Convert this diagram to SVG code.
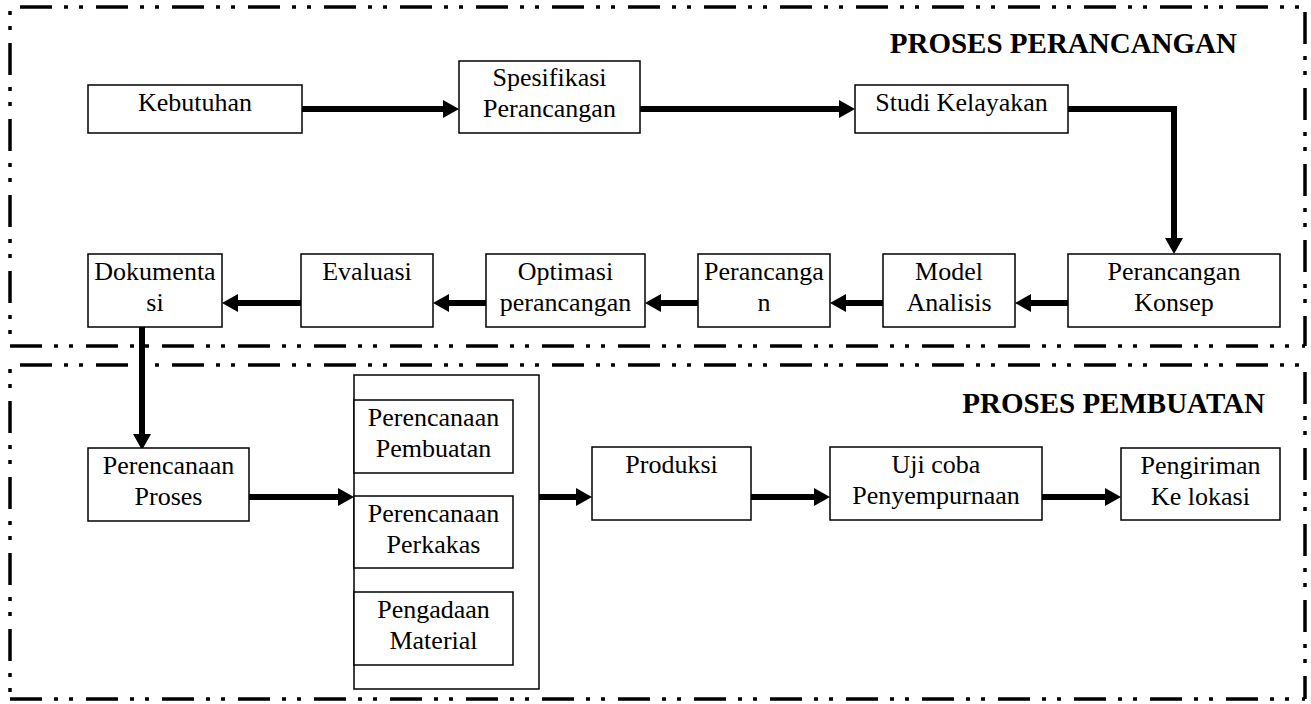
<svg xmlns="http://www.w3.org/2000/svg" width="1311" height="704" viewBox="0 0 1311 704">
<style>
.frame{fill:none;stroke:#000;stroke-width:3.5;stroke-dasharray:32 12 4 11 4 13}
.box{fill:#fff;stroke:#000;stroke-width:1.5}
.t{font-family:"Liberation Serif","Times New Roman",serif;font-size:26px;fill:#000;text-anchor:middle}
.title{font-family:"Liberation Serif","Times New Roman",serif;font-size:29px;font-weight:bold;fill:#000;text-anchor:end}
.arr{fill:none;stroke:#000;stroke-width:6;marker-end:url(#ah)}
</style>
<defs>
<marker id="ah" viewBox="0 0 16 18" refX="0" refY="9" markerWidth="16" markerHeight="18" markerUnits="userSpaceOnUse" orient="auto">
<path d="M0,0 L16,9 L0,18 Z" fill="#000"/>
</marker>
</defs>
<g id="frames">
<line class="frame" x1="10" y1="7" x2="1305" y2="7" stroke-dashoffset="66"/>
<line class="frame" x1="10" y1="7" x2="10" y2="346" stroke-dashoffset="40"/>
<line class="frame" x1="1305" y1="7" x2="1305" y2="346" stroke-dashoffset="71"/>
<line class="frame" x1="10" y1="346" x2="1305" y2="346" stroke-dashoffset="0"/>
<line class="frame" x1="10" y1="365" x2="1305" y2="365" stroke-dashoffset="66"/>
<line class="frame" x1="10" y1="365" x2="10" y2="699" stroke-dashoffset="40"/>
<line class="frame" x1="1305" y1="365" x2="1305" y2="699" stroke-dashoffset="69"/>
<line class="frame" x1="10" y1="699" x2="1305" y2="699" stroke-dashoffset="0"/>
</g>
<g id="titles">
<text class="title" x="1237" y="53">PROSES PERANCANGAN</text>
<text class="title" x="1265" y="413">PROSES PEMBUATAN</text>
</g>
<g id="connectors">
<path class="arr" d="M302,109 H443"/>
<path class="arr" d="M640,109 H839"/>
<path class="arr" d="M1068,109 H1174 V238" stroke-linejoin="miter"/>
<path class="arr" d="M1068,303 H1031"/>
<path class="arr" d="M883,303 H846"/>
<path class="arr" d="M698,303 H661"/>
<path class="arr" d="M486,303 H449"/>
<path class="arr" d="M301,303 H238"/>
<path class="arr" d="M142,327 V434"/>
<path class="arr" d="M249,497 H338"/>
<path class="arr" d="M539,497 H576"/>
<path class="arr" d="M751,497 H814"/>
<path class="arr" d="M1042,497 H1105"/>
</g>
<g id="kebutuhan"><rect class="box" x="88" y="85" width="214" height="48"/><text class="t" x="195" y="111">Kebutuhan</text></g>
<g id="spesifikasi"><rect class="box" x="459" y="61" width="181" height="72"/><text class="t" x="549.5" y="86">Spesifikasi</text><text class="t" x="549.5" y="117">Perancangan</text></g>
<g id="studi"><rect class="box" x="855" y="85" width="213" height="48"/><text class="t" x="961.5" y="111">Studi Kelayakan</text></g>
<g id="dokumentasi"><rect class="box" x="88" y="254" width="134" height="73"/><text class="t" x="155" y="280">Dokumenta</text><text class="t" x="155" y="311">si</text></g>
<g id="evaluasi"><rect class="box" x="301" y="254" width="132" height="73"/><text class="t" x="367" y="280">Evaluasi</text></g>
<g id="optimasi"><rect class="box" x="486" y="254" width="159" height="73"/><text class="t" x="565.5" y="280">Optimasi</text><text class="t" x="565.5" y="311">perancangan</text></g>
<g id="perancangan"><rect class="box" x="698" y="254" width="132" height="73"/><text class="t" x="764" y="280">Perancanga</text><text class="t" x="764" y="311">n</text></g>
<g id="model"><rect class="box" x="883" y="254" width="132" height="73"/><text class="t" x="949" y="280">Model</text><text class="t" x="949" y="311">Analisis</text></g>
<g id="konsep"><rect class="box" x="1068" y="254" width="212" height="73"/><text class="t" x="1174" y="280">Perancangan</text><text class="t" x="1174" y="311">Konsep</text></g>
<g id="proses"><rect class="box" x="88" y="448" width="161" height="73"/><text class="t" x="168.5" y="474">Perencanaan</text><text class="t" x="168.5" y="505">Proses</text></g>
<g id="container"><rect class="box" x="354" y="375" width="185" height="314"/></g>
<g id="pembuatan"><rect class="box" x="354" y="400" width="159" height="73"/><text class="t" x="433.5" y="426">Perencanaan</text><text class="t" x="433.5" y="457">Pembuatan</text></g>
<g id="perkakas"><rect class="box" x="354" y="496" width="159" height="72"/><text class="t" x="433.5" y="522">Perencanaan</text><text class="t" x="433.5" y="553">Perkakas</text></g>
<g id="pengadaan"><rect class="box" x="354" y="592" width="159" height="73"/><text class="t" x="433.5" y="618">Pengadaan</text><text class="t" x="433.5" y="649">Material</text></g>
<g id="produksi"><rect class="box" x="592" y="447" width="159" height="73"/><text class="t" x="671.5" y="473">Produksi</text></g>
<g id="ujicoba"><rect class="box" x="830" y="447" width="212" height="73"/><text class="t" x="936" y="473">Uji coba</text><text class="t" x="936" y="504">Penyempurnaan</text></g>
<g id="pengiriman"><rect class="box" x="1121" y="448" width="159" height="72"/><text class="t" x="1200.5" y="474">Pengiriman</text><text class="t" x="1200.5" y="505">Ke lokasi</text></g>
</svg>
